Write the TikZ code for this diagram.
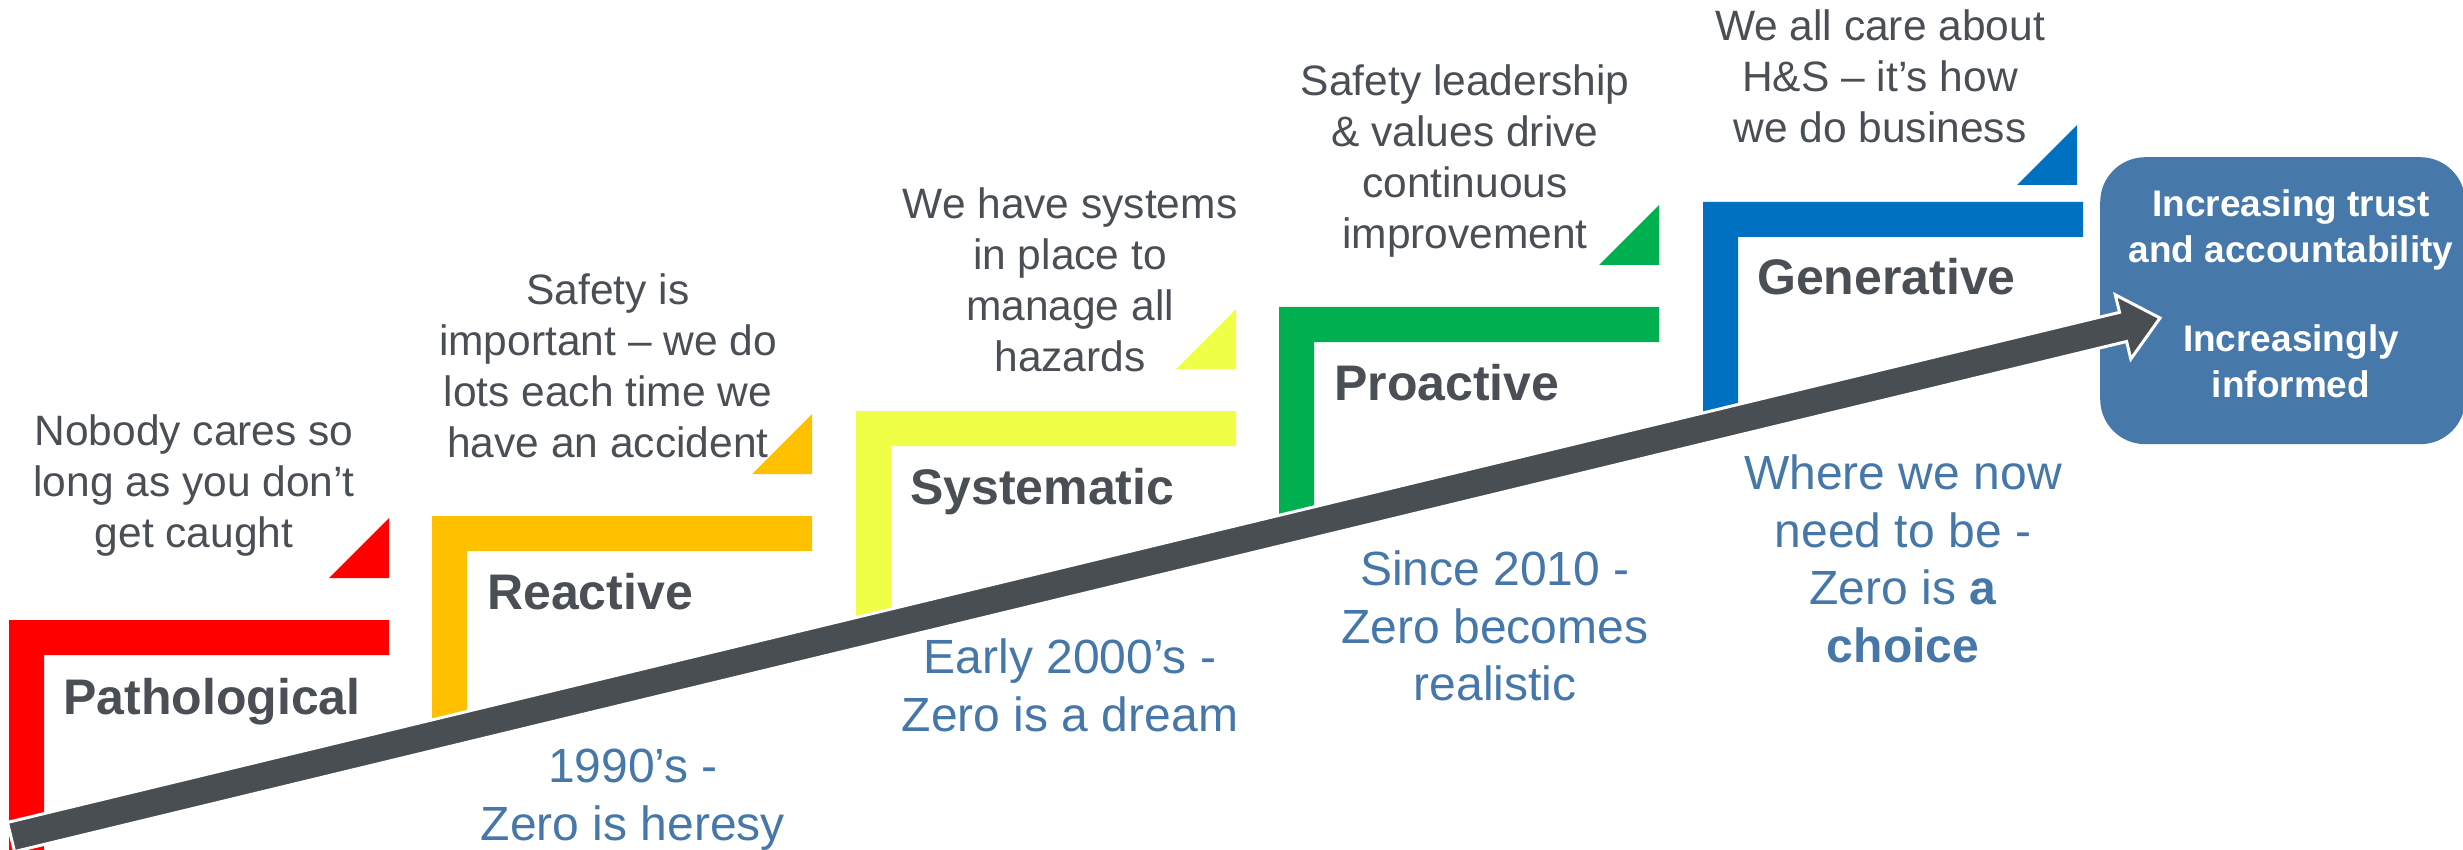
\documentclass[tikz,border=0pt]{standalone}
\usepackage{fontspec}
\setmainfont{Liberation Sans}
\newcommand\myStrut{\rule{0pt}{0.8em}}
\definecolor{cRed}{HTML}{FF0000}
\definecolor{cAmber}{HTML}{FFC000}
\definecolor{cLime}{HTML}{EFFF45}
\definecolor{cGreen}{HTML}{00B050}
\definecolor{cBlue}{HTML}{0070C0}
\definecolor{arrGray}{HTML}{494E52}
\definecolor{txtGray}{HTML}{4A4F55}
\definecolor{txtBlue}{HTML}{4577A8}
\definecolor{boxBlue}{HTML}{4679A9}
\begin{document}
\begin{tikzpicture}[x=1pt,y=-1pt,
  desc/.style={inner sep=0pt, align=center, text=txtGray, font=\fontsize{42.5}{51}\selectfont},
  era/.style={inner sep=0pt, align=center, text=txtBlue, font=\fontsize{48}{57.5}\selectfont},
  stage/.style={inner sep=0pt, anchor=base west, text=txtGray, font=\fontsize{50}{60}\selectfont\bfseries},
  boxtxt/.style={inner sep=0pt, align=center, text=white, font=\fontsize{37}{46}\selectfont\bfseries},
  goalbox/.style={fill=boxBlue, rounded corners=45pt, inner sep=0pt, minimum width=365pt, minimum height=287pt, anchor=north west}
]
\useasboundingbox (0,0) rectangle (2463,850);

% goal box (behind the arrow head)
\node[goalbox] (goal) at (2100,157) {};

% steps
\foreach \x/\y/\c/\by in {9/620/cRed/850, 432/516/cAmber/731, 856/411/cLime/628, 1279/307/cGreen/526}{
  \fill[\c] (\x,\y) -- (\x+380,\y) -- (\x+380,\y+35) -- (\x+35,\y+35) -- (\x+35,\by) -- (\x,\by) -- cycle;
  \fill[\c] (\x+380,\y-102) -- (\x+380,\y-42) -- (\x+320,\y-42) -- cycle;
}
\fill[cBlue] (1703,202) -- (2083,202) -- (2083,237) -- (1738,237) -- (1738,423) -- (1703,423) -- cycle;
\fill[cBlue] (2077,125) -- (2077,185) -- (2017,185) -- cycle;

% main arrow
\coordinate (arrS) at (11,837);
\coordinate (arrT) at (2160,318);
\filldraw[fill=arrGray, draw=white, line width=3pt, line join=miter]
  (14.52,851.58) -- (7.48,822.42) -- (2119.54,312.34) -- (2115.31,294.84) -- (arrT)
  -- (2130.81,359.0) -- (2126.58,341.50) -- cycle;

% stage labels
\node[stage] (s0) at (63,714) {Pathological};
\node[stage] (s1) at (487,609) {Reactive};
\node[stage] (s2) at (910,504) {Systematic};
\node[stage] (s3) at (1334,400) {Proactive};
\node[stage] (s4) at (1757,295) {Generative};

% descriptions
\node[desc, anchor=north] (d0) at (194,411) {\myStrut Nobody cares so\\long as you don’t\\get caught};
\node[desc, anchor=north] (d1) at (608,270) {\myStrut Safety is\\important – we do\\lots each time we\\have an accident};
\node[desc, anchor=north] (d2) at (1070,184) {\myStrut We have systems\\in place to\\manage all\\hazards};
\node[desc, anchor=north] (d3) at (1465,61) {\myStrut Safety leadership\\\& values drive\\continuous\\improvement};
\node[desc, anchor=north] (d4) at (1880,6) {\myStrut We all care about\\H\&S – it’s how\\we do business};

% eras
\node[era, anchor=north] (e1) at (633,744) {\myStrut 1990’s -\\Zero is heresy};
\node[era, anchor=north] (e2) at (1070,635) {\myStrut Early 2000’s -\\Zero is a dream};
\node[era, anchor=north] (e3) at (1495,547) {\myStrut Since 2010 -\\Zero becomes\\realistic};
\node[era, anchor=north] (e4) at (1903,451) {\myStrut Where we now\\need to be -\\Zero is \textbf{a}\\\textbf{choice}};

% goal box texts
\node[boxtxt, anchor=north] (g1) at (2291,187) {\myStrut Increasing trust\\and accountability};
\node[boxtxt, anchor=north] (g2) at (2291,322) {\myStrut Increasingly\\informed};
\end{tikzpicture}
\end{document}
